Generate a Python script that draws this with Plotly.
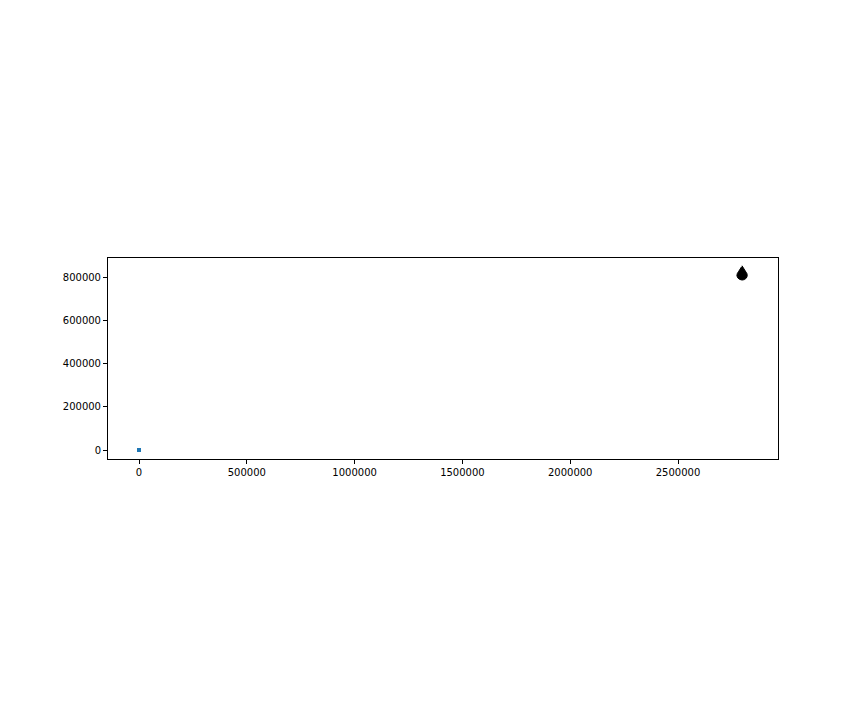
import plotly.graph_objects as go

# Origin point
origin_x = [0]
origin_y = [0]

# Outline of the black shape (data units)
shape_x = [2797000, 2802000, 2808000, 2815000, 2820000, 2821000, 2817000, 2808000,
           2797000, 2786000, 2777000, 2773000, 2775000, 2782000, 2790000, 2794000]
shape_y = [852000, 845000, 835000, 825000, 815000, 805000, 795000, 788000,
           786000, 789000, 796000, 806000, 816000, 827000, 838000, 846000]

x_ticks = [0, 500000, 1000000, 1500000, 2000000, 2500000]
y_ticks = [0, 200000, 400000, 600000, 800000]

fig = go.Figure()
fig.add_trace(go.Scatter(x=shape_x, y=shape_y, mode="lines", fill="toself",
                         fillcolor="black", line=dict(color="black", width=1),
                         showlegend=False, hoverinfo="skip"))
fig.add_trace(go.Scatter(x=origin_x, y=origin_y, mode="markers",
                         marker=dict(symbol="square", size=4, color="#1f77b4"),
                         showlegend=False))

axis_common = dict(showline=True, linecolor="black", linewidth=1, mirror=True,
                   ticks="outside", ticklen=4, tickcolor="black", showgrid=False,
                   zeroline=False, tickformat="d",
                   tickfont=dict(family="DejaVu Sans", size=10, color="black"))

fig.update_xaxes(range=[-143800, 2963800], tickvals=x_ticks, **axis_common)
fig.update_yaxes(range=[-41600, 887900], tickvals=y_ticks, **axis_common)

fig.update_layout(width=864, height=720,
                  margin=dict(l=108, r=86, t=258, b=261),
                  plot_bgcolor="white", paper_bgcolor="white",
                  font=dict(family="DejaVu Sans", size=10, color="black"))

fig.write_html("out.html")
